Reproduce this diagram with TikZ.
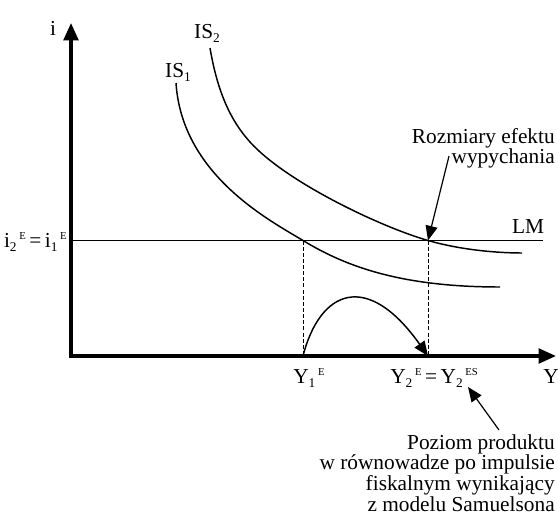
\documentclass[tikz,border=0pt]{standalone}
\usepackage{fontspec}
\setmainfont{Liberation Serif}
\usetikzlibrary{positioning, arrows.meta}
\newcommand{\sbx}[1]{\raisebox{-3pt}{\fontsize{10pt}{10pt}\selectfont #1}}
\newcommand{\spx}[1]{\hspace{2pt}\raisebox{5.5pt}{\fontsize{8pt}{8pt}\selectfont #1}}

\begin{document}
\begin{tikzpicture}[x=0.75pt, y=-0.75pt,
  axis/.style={line width=2.4pt, -{Triangle[length=13pt, width=11pt]}},
  curve/.style={line width=1.1pt},
  guide/.style={line width=0.75pt, dash pattern=on 3pt off 1.6pt},
  pointer/.style={line width=0.9pt, -{Triangle[length=11pt, width=9pt]}},
  lbl/.style={font=\fontsize{16pt}{15.5pt}\selectfont, inner sep=0pt},
  note/.style={lbl, align=right}]
  \useasboundingbox (0,0) rectangle (558,514);

  \coordinate (O) at (71,356);
  \coordinate (itop) at (71,23);
  \coordinate (Yend) at (556,356);
  \coordinate (E1) at (303,240.5);
  \coordinate (E2) at (428,240.5);
  \coordinate (Y1) at (303,356);
  \coordinate (Y2) at (428,356);
  \coordinate (LMend) at (543,240.5);

  % osie
  \draw[axis] ([yshift=1.2pt]O) -- (itop);
  \draw[axis] ([xshift=-1.2pt]O) -- (Yend);
  \node[lbl, anchor=base] (ilab) at (53,36) {i};
  \node[lbl, anchor=base west] (Ylab) at (543,383) {Y};

  % LM i krzywe IS
  \draw[curve] (71,240.5) -- (LMend);
  \draw[curve] (176,83) .. controls (182,175) and (270,220.5) .. (E1)
    .. controls (345,266) and (400,287) .. (500,287);
  \draw[curve] (210,48) .. controls (218,95) and (232,122) .. (250,142)
    .. controls (285,181) and (378,226) .. (E2)
    .. controls (463,250.5) and (500,253) .. (522,253);
  \node[lbl, anchor=base] (lm) at (528,233) {LM};
  \node[lbl, anchor=base] (is1) at (178,77) {IS\sbx{1}};
  \node[lbl, anchor=base] (is2) at (207,38) {IS\sbx{2}};

  % rownowagi
  \draw[guide] (E1) -- (Y1);
  \draw[guide] (E2) -- (Y2);
  \node[lbl, anchor=base east] (ilev) at (67,247) {i\sbx{2}\spx{E}\,=\,i\sbx{1}\spx{E}};
  \node[lbl, anchor=base west] (y1lab) at (293,383) {Y\sbx{1}\spx{E}};
  \node[lbl, anchor=base west] (y2lab) at (390,383) {Y\sbx{2}\spx{E}\,=\,Y\sbx{2}\spx{ES}};
  \draw[curve, -{Triangle[length=11pt, width=9pt]}] (Y1) .. controls (320,290) and (367,270) .. (Y2);

  % opisy
  \node[note, anchor=north east] (crowd) at (555,128) {Rozmiary efektu\\wypychania};
  \coordinate (crowdfrom) at (449,156);
  \draw[pointer] (crowdfrom) -- (E2);
  \node[note, anchor=north east] (samuel) at (555,434)
    {Poziom produktu\\w równowadze po impulsie\\fiskalnym wynikający\\z modelu Samuelsona};
  \coordinate (samfrom) at (499,430);
  \coordinate (samto) at (468,387);
  \draw[pointer] (samfrom) -- (samto);
\end{tikzpicture}
\end{document}
